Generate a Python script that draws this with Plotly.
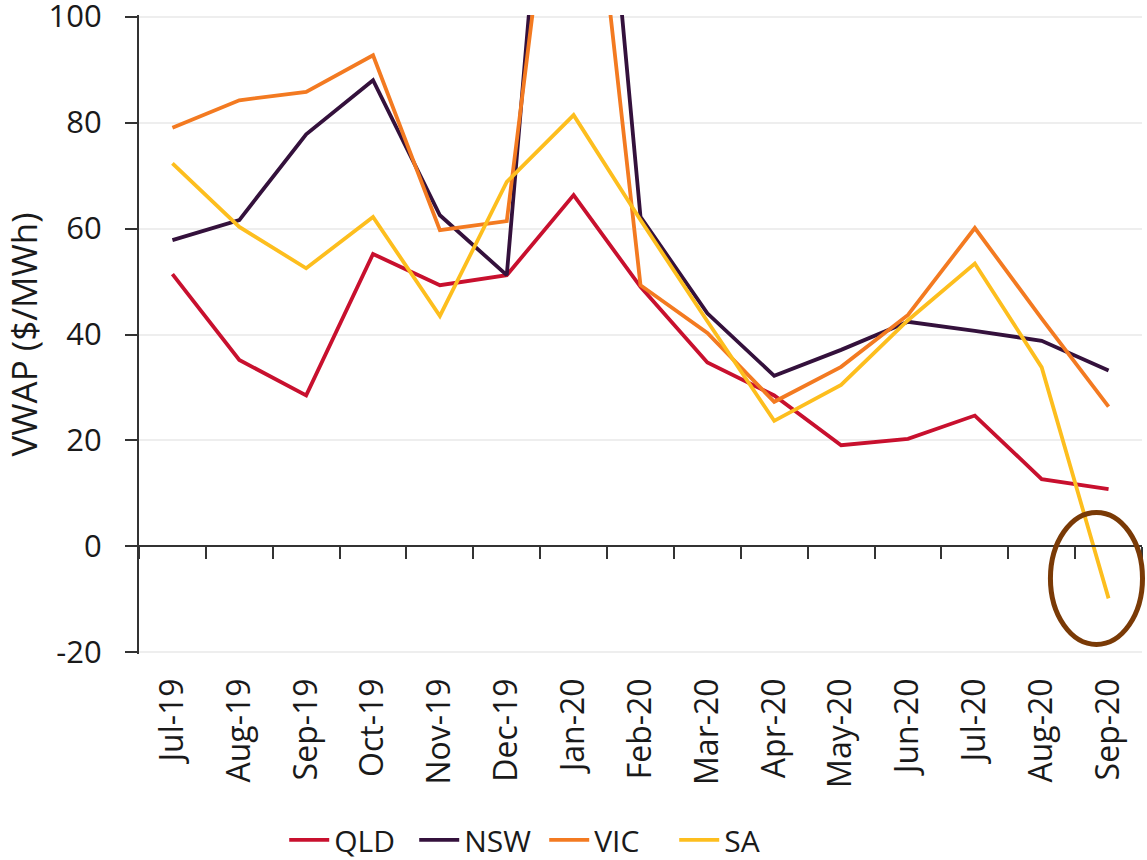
import numpy as np
import plotly.graph_objects as go

months = ["Jul-19", "Aug-19", "Sep-19", "Oct-19", "Nov-19", "Dec-19", "Jan-20", "Feb-20",
          "Mar-20", "Apr-20", "May-20", "Jun-20", "Jul-20", "Aug-20", "Sep-20"]
qld = [51.4, 35.2, 28.5, 55.2, 49.3, 51.2, 66.3, 49.0, 34.7, 28.5, 19.1, 20.3, 24.7, 12.7, 10.8]
nsw = [57.8, 61.6, 77.8, 88.0, 62.5, 51.2, 200.0, 62.2, 44.0, 32.2, 37.1, 42.4, 40.7, 38.8, 33.2]
vic = [79.0, 84.2, 85.8, 92.7, 59.7, 61.4, 163.0, 49.3, 40.3, 27.3, 33.9, 43.7, 60.1, 43.0, 26.4]
sa = [72.3, 60.3, 52.5, 62.2, 43.5, 68.8, 81.4, 61.6, 42.5, 23.7, 30.5, 42.7, 53.4, 33.8, -9.8]

series = [("QLD", qld, "#C8102E"), ("NSW", nsw, "#34113C"),
          ("VIC", vic, "#F37A21"), ("SA", sa, "#FDBE1E")]

y_ticks = [-20, 0, 20, 40, 60, 80, 100]
y_range = [-20.3, 100.3]

FONT = "Open Sans"
TXT = "#1a1a1a"
AX = "#333333"

x_idx = np.arange(len(months))

fig = go.Figure()
for name, vals, col in series:
    fig.add_trace(go.Scatter(x=x_idx, y=vals, mode="lines", name=name,
                             line=dict(color=col, width=3.8), cliponaxis=True))

# empty helper trace so the zero-line axis (x2) is rendered
fig.add_trace(go.Scatter(x=[], y=[], xaxis="x2", yaxis="y", showlegend=False,
                         hoverinfo="skip", mode="lines"))

boundaries = np.arange(len(months) + 1) - 0.5

fig.update_layout(
    width=1147, height=860,
    margin=dict(l=139, r=5, t=15, b=206, autoexpand=False),
    paper_bgcolor="white", plot_bgcolor="white",
    font=dict(family=FONT, size=30, color=TXT),
    showlegend=True,
    legend=dict(orientation="h", x=0.404, xanchor="center", y=-0.291, yanchor="middle",
                font=dict(family=FONT, size=30, color=TXT), itemwidth=40,
                entrywidth=75, entrywidthmode="pixels",
                traceorder="normal", bgcolor="rgba(0,0,0,0)"),
    xaxis=dict(range=[-0.5, len(months) - 0.5], tickmode="array", tickvals=x_idx,
               ticktext=months, tickangle=-90, showgrid=False, showline=False,
               ticks="", zeroline=False, ticklabelstandoff=17,
               tickfont=dict(family=FONT, size=32, color=TXT)),
    xaxis2=dict(overlaying="x", anchor="free",
                position=(0 - y_range[0]) / (y_range[1] - y_range[0]),
                range=[-0.5, len(months) - 0.5], tickmode="array", tickvals=boundaries,
                showticklabels=False, ticks="outside", ticklen=12, tickwidth=2,
                tickcolor=AX, showline=True, linecolor=AX, linewidth=2,
                showgrid=False, zeroline=False),
    yaxis=dict(range=y_range, tickmode="array", tickvals=y_ticks,
               ticktext=[str(v) for v in y_ticks], showgrid=True, gridcolor="#eeeeee",
               gridwidth=1.5, zeroline=False, showline=True, linecolor=AX, linewidth=2,
               ticks="outside", ticklen=12, tickwidth=2, tickcolor=AX,
               ticklabelstandoff=17, ticklabeloverflow="allow",
               tickfont=dict(family=FONT, size=31, color=TXT)),
)
fig.update_yaxes(title=dict(text="VWAP ($/MWh)", standoff=19,
                            font=dict(family=FONT, size=35, color=TXT)))

# highlight ellipse around the negative SA value (paper coordinates of the plot area)
fig.add_shape(type="circle", xref="paper", yref="paper",
              x0=0.9087, x1=1.0005, y0=0.0150, y1=0.2215,
              line=dict(color="#7A3A06", width=5), fillcolor="rgba(0,0,0,0)", layer="above")

fig.write_html("out.html", config={"displayModeBar": False},
               post_script="document.body.style.margin='0';document.body.style.overflow='hidden';")
